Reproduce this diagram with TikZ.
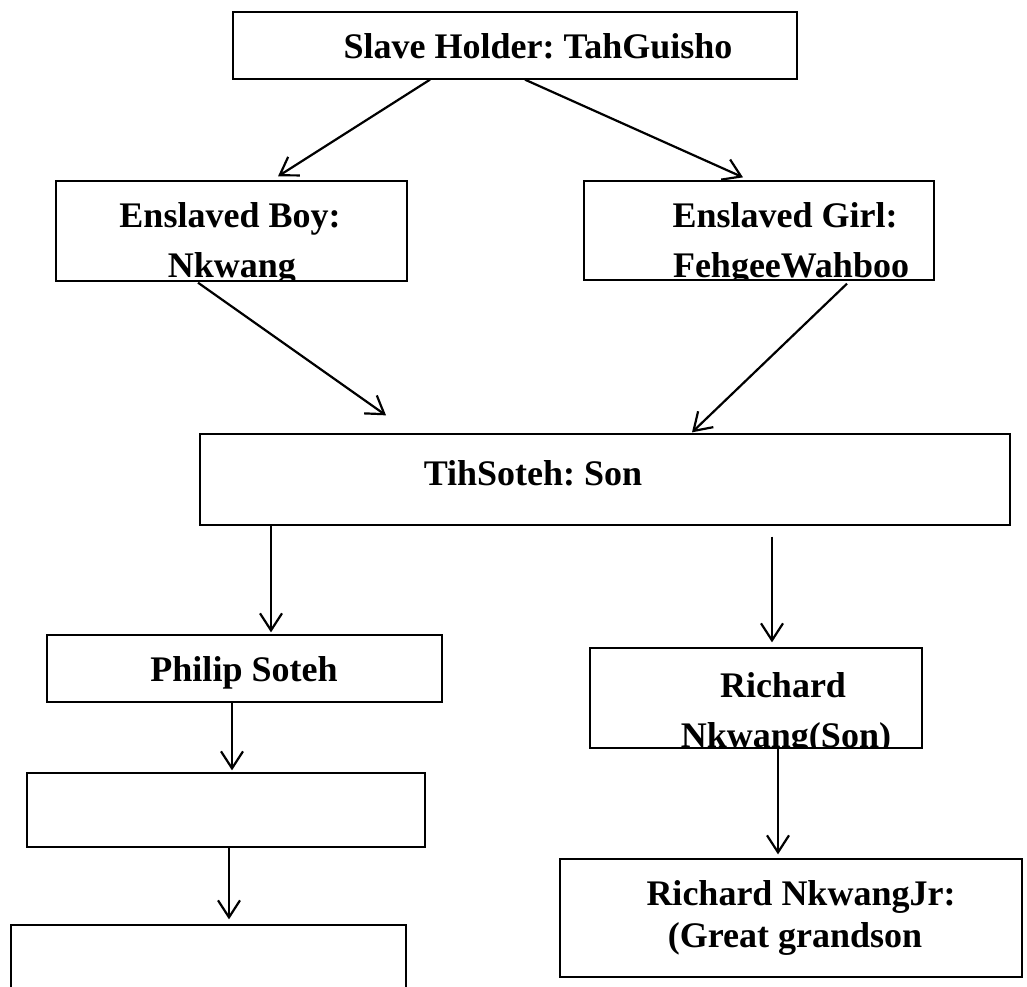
\documentclass[tikz,border=0pt]{standalone}
\usepackage{fontspec}
\setmainfont{Liberation Serif}
\usetikzlibrary{arrows.meta}
\frenchspacing
\begin{document}
\begin{tikzpicture}[x=1pt,y=-1pt,
  box/.style={draw, line width=1.3pt, rectangle, inner sep=0pt},
  txt/.style={inner sep=0pt, anchor=base, font=\fontsize{36}{50}\selectfont\bfseries},
  arr/.style={line width=2.2pt, -{Straight Barb[length=17pt,width=22pt]}}]
\clip (0,0) rectangle (1027,986);
\fill[white] (0,0) rectangle (1027,986);
% boxes
\node[box, minimum width=564pt, minimum height=67pt]  (top)     at (515,45.5) {};
\node[box, minimum width=351pt, minimum height=100pt] (boy)     at (231.5,231) {};
\node[box, minimum width=350pt, minimum height=99pt]  (girl)    at (759,230.5) {};
\node[box, minimum width=810pt, minimum height=91pt]  (tih)     at (605,479.5) {};
\node[box, minimum width=395pt, minimum height=67pt]  (philip)  at (244.5,668.5) {};
\node[box, minimum width=332pt, minimum height=100pt] (richard) at (756,698) {};
\node[box, minimum width=398pt, minimum height=74pt]  (emptyA)  at (226,810) {};
\node[box, minimum width=395pt, minimum height=80pt]  (emptyB)  at (208.5,965) {};
\node[box, minimum width=462pt, minimum height=118pt] (jr)      at (791,918) {};
% texts
\node[txt] (topT) at (538,58) {Slave Holder: TahGuisho};
\begin{scope}
\clip (boy.south west) rectangle (boy.north east);
\node[txt] (boyT1) at (230,227) {Enslaved Boy:};
\node[txt] (boyT2) at (232,277) {Nkwang};
\end{scope}
\begin{scope}
\clip (girl.south west) rectangle (girl.north east);
\node[txt] (girlT1) at (785,227) {Enslaved Girl:};
\node[txt] (girlT2) at (791,277) {FehgeeWahboo};
\end{scope}
\node[txt] (tihT) at (533,485) {TihSoteh: Son};
\node[txt] (philipT) at (244,681) {Philip Soteh};
\begin{scope}
\clip (richard.south west) rectangle (richard.north east);
\node[txt] (richardT1) at (783,697) {Richard};
\node[txt] (richardT2) at (786,747) {Nkwang(Son)};
\end{scope}
\node[txt] (jrT1) at (801,905) {Richard NkwangJr:};
\node[txt] (jrT2) at (795,947) {(Great grandson};
% arrows
\draw[arr] ([xshift=-85pt]top.south) -- ([xshift=46.5pt,yshift=4pt]boy.north);
\draw[arr] ([xshift=10pt]top.south) -- ([xshift=-16pt,yshift=3pt]girl.north);
\draw[arr] ([xshift=-33.5pt,yshift=-1pt]boy.south) -- ([xshift=-219pt,yshift=18pt]tih.north);
\draw[arr] ([xshift=88pt,yshift=-3pt]girl.south) -- ([xshift=87pt,yshift=1pt]tih.north);
\draw[arr] ([xshift=-334pt]tih.south) -- ([xshift=26.5pt,yshift=2pt]philip.north);
\draw[arr] ([xshift=167pt,yshift=-11pt]tih.south) -- ([xshift=16pt,yshift=5pt]richard.north);
\draw[arr] ([xshift=-12.5pt]philip.south) -- ([xshift=6pt,yshift=2pt]emptyA.north);
\draw[arr] ([xshift=22pt]richard.south) -- ([xshift=-13pt,yshift=4pt]jr.north);
\draw[arr] ([xshift=3pt]emptyA.south) -- ([xshift=20.5pt,yshift=5pt]emptyB.north);
\end{tikzpicture}
\end{document}
